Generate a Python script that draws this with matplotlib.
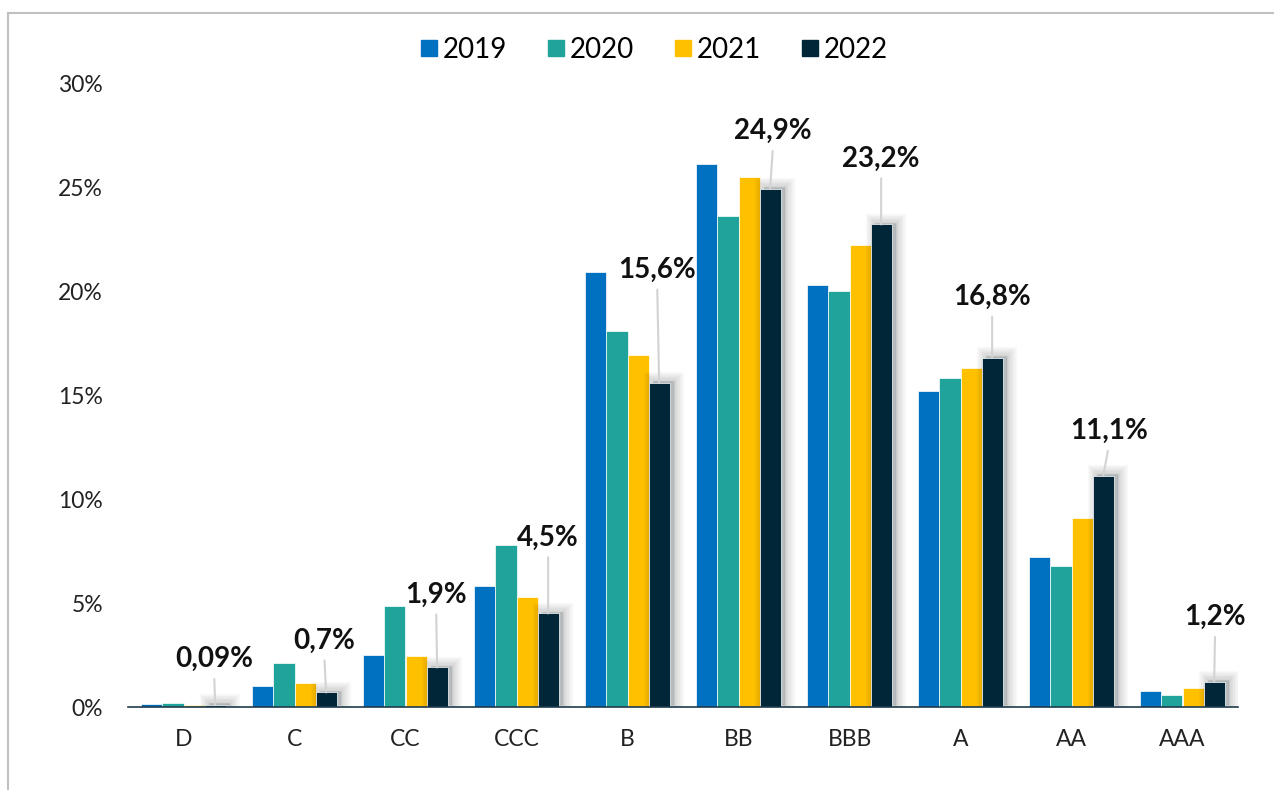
import matplotlib
matplotlib.use("Agg")
import matplotlib.pyplot as plt
import matplotlib.patheffects as pe
from matplotlib.lines import Line2D
import numpy as np

categories = ["D", "C", "CC", "CCC", "B", "BB", "BBB", "A", "AA", "AAA"]
years = ["2019", "2020", "2021", "2022"]
v2019 = [0.15, 1.0, 2.5, 5.8, 20.9, 26.1, 20.3, 15.2, 7.2, 0.77]
v2020 = [0.19, 2.1, 4.85, 7.8, 18.1, 23.6, 20.0, 15.8, 6.8, 0.6]
v2021 = [0.11, 1.15, 2.45, 5.3, 16.9, 25.5, 22.2, 16.3, 9.1, 0.9]
v2022 = [0.09, 0.7, 1.9, 4.5, 15.6, 24.9, 23.2, 16.8, 11.1, 1.2]
labels_2022 = ["0,09%", "0,7%", "1,9%", "4,5%", "15,6%", "24,9%", "23,2%", "16,8%", "11,1%", "1,2%"]
yticks = [0, 5, 10, 15, 20, 25, 30]
ytick_labels = ["0%", "5%", "10%", "15%", "20%", "25%", "30%"]

colors = ["#0070C0", "#1FA39A", "#FFC000", "#002638"]
# label offsets in pixels (dx, dy) from the 2022 bar top
label_offsets = [(-1, 46), (-2, 52), (-1, 73), (0, 76), (-2, 113),
                 (3, 58), (0, 66), (0, 61), (6, 45), (1, 65)]

plt.rcParams['font.family'] = ['Lato', 'DejaVu Sans']

fig = plt.figure(figsize=(12.74, 7.9), dpi=100)
ax = fig.add_axes([128/1274, 1-707/790, (1238-128)/1274, (707-83)/790])

x = np.arange(len(categories))
w = 0.19
series = [v2019, v2020, v2021, v2022]
shadow = [pe.Stroke(offset=(3.0, 1.2), linewidth=lw, foreground="#000000", alpha=0.022)
          for lw in (14, 12, 10, 8, 6, 4, 2)] + [pe.Normal()]
for i, (vals, col) in enumerate(zip(series, colors)):
    bars = ax.bar(x + (i - 1.5) * w, vals, width=w, color=col,
                  edgecolor="white", linewidth=0.5, zorder=3 if i < 3 else 4)
    if i == 3:
        for b in bars:
            b.set_path_effects(shadow)

xs22 = x + 1.5 * w
for xi, v, lab, (dx, dy) in zip(xs22, v2022, labels_2022, label_offsets):
    ax.annotate(lab, xy=(xi, v), xytext=(dx, dy), textcoords="offset pixels",
                ha="center", va="center", fontsize=20, fontweight="bold", color="#111111",
                arrowprops=dict(arrowstyle="-", color="#d3d3d3", lw=1.5,
                                shrinkA=3, shrinkB=0, relpos=(0.5, 0.0)),
                zorder=6)

ax.set_xlim(-0.5, len(categories) - 0.5)
ax.set_ylim(0, 30)
ax.set_yticks(yticks)
ax.set_yticklabels(ytick_labels)
ax.set_xticks(x)
ax.set_xticklabels(categories)
ax.tick_params(axis="y", length=0, pad=18, labelsize=16.5, labelcolor="#222222")
ax.tick_params(axis="x", length=0, pad=16, labelsize=16.5, labelcolor="#222222")
for s in ["top", "right", "left"]:
    ax.spines[s].set_visible(False)
ax.spines["bottom"].set_color("#1F3B4D")
ax.spines["bottom"].set_linewidth(1.2)
ax.spines["bottom"].set_zorder(5)

handles = [Line2D([0], [0], marker="s", linestyle="none", markersize=12,
                  markerfacecolor=c, markeredgecolor=c) for c in colors]
fig.legend(handles, years, loc="center", bbox_to_anchor=(653/1274, 1-50/790), ncol=4,
           frameon=False, fontsize=20, handletextpad=0.1, columnspacing=1.35,
           handlelength=0.8)

# outer chart frame (top and left edges)
fig.add_artist(Line2D([8/1274, 8/1274], [0, 1-13/790], transform=fig.transFigure,
                      color="#c0c0c0", lw=1.5))
fig.add_artist(Line2D([8/1274, 1], [1-13/790, 1-13/790], transform=fig.transFigure,
                      color="#c0c0c0", lw=1.5))

fig.savefig("out.png", dpi=100, facecolor="white")
